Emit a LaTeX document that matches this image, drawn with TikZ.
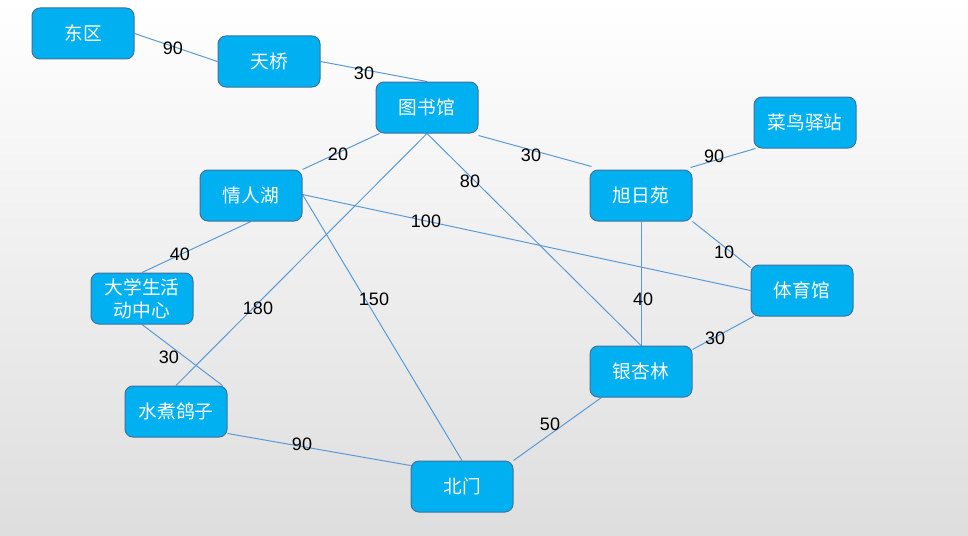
\documentclass[tikz,border=0pt]{standalone}
\usepackage{fontspec}
\setmainfont{Liberation Sans}
\newfontfamily\cjk{Noto Sans CJK SC}
\definecolor{nodefill}{HTML}{00B0F0}
\definecolor{nodeborder}{HTML}{41719C}
\definecolor{edgec}{HTML}{5B9BD5}
\pgfdeclarelayer{bg}
\pgfsetlayers{bg,main}
\tikzset{
  place/.style={rectangle, rounded corners=8pt, minimum width=102pt, minimum height=51pt,
    inner sep=0pt, fill=nodefill, draw=nodeborder, line width=1pt, text=white,
    align=center, font=\cjk\fontsize{18.7}{23.3}\selectfont},
  link/.style={draw=edgec, line width=1pt},
  wlabel/.style={inner sep=0pt, text=black, font=\fontsize{18}{20}\selectfont}
}
\begin{document}
\begin{tikzpicture}[x=1pt,y=-1pt]
\useasboundingbox (0,0) rectangle (968,535);
\begin{pgfonlayer}{bg}
\shade[top color=white, bottom color=black!13] (0,0) rectangle (968,535);
\end{pgfonlayer}

\node[place] (dongqu) at (83,33.5) {东区};
\node[place] (tianqiao) at (269,61.5) {天桥};
\node[place] (tushuguan) at (427,107.5) {图书馆};
\node[place] (qingrenhu) at (251,195.5) {情人湖};
\node[place] (cainiao) at (805,122.5) {菜鸟驿站};
\node[place] (xuriyuan) at (641,195.5) {旭日苑};
\node[place] (tiyuguan) at (802,290.5) {体育馆};
\node[place] (yinxinglin) at (641,371.5) {银杏林};
\node[place] (daxuesheng) at (142,298.5) {大学生活\\动中心};
\node[place] (shuizhu) at (176,411.5) {水煮鸽子};
\node[place] (beimen) at (462,486.5) {北门};

\begin{pgfonlayer}{bg}
\draw[link] (dongqu.east) -- (tianqiao.west);
\draw[link] (tianqiao.east) -- (tushuguan.north);
\draw[link] ([xshift=4pt]tushuguan.south west) -- (qingrenhu.north east);
\draw[link] (tushuguan.south) -- (shuizhu.north);
\draw[link] (tushuguan.south) -- (yinxinglin.north);
\draw[link] ([yshift=-2pt]tushuguan.south east) -- ([xshift=2pt,yshift=3pt]xuriyuan.north west);
\draw[link] ([yshift=1pt]qingrenhu.east) -- (tiyuguan.west);
\draw[link] ([yshift=1pt]qingrenhu.east) -- (beimen.north);
\draw[link] (qingrenhu.south) -- (daxuesheng.north);
\draw[link] (daxuesheng.south) -- ([xshift=-5pt]shuizhu.north east);
\draw[link] ([yshift=4pt]shuizhu.south east) -- ([yshift=-5pt]beimen.north west);
\draw[link] (beimen.north east) -- ([xshift=12pt]yinxinglin.south west);
\draw[link] ([xshift=0.5pt]xuriyuan.south) -- ([xshift=0.5pt]yinxinglin.north);
\draw[link] (xuriyuan.south east) -- ([yshift=-3pt]tiyuguan.north west);
\draw[link] ([xshift=-2pt,yshift=2pt]xuriyuan.north east) -- ([xshift=2pt]cainiao.south west);
\draw[link] ([xshift=3pt]tiyuguan.south west) -- ([yshift=-4pt]yinxinglin.north east);
\end{pgfonlayer}

\node[wlabel] (w1) at (173,48) {90};
\node[wlabel] (w2) at (364,73) {30};
\node[wlabel] (w3) at (338,154) {20};
\node[wlabel] (w4) at (470,181) {80};
\node[wlabel] (w5) at (426,221) {100};
\node[wlabel] (w6) at (531,155) {30};
\node[wlabel] (w7) at (714,156) {90};
\node[wlabel] (w8) at (724,252) {10};
\node[wlabel] (w9) at (643,299) {40};
\node[wlabel] (w10) at (715,338) {30};
\node[wlabel] (w11) at (550,424) {50};
\node[wlabel] (w12) at (180,254) {40};
\node[wlabel] (w13) at (258,308) {180};
\node[wlabel] (w14) at (374,299) {150};
\node[wlabel] (w15) at (169,357) {30};
\node[wlabel] (w16) at (302,444) {90};
\end{tikzpicture}
\end{document}
